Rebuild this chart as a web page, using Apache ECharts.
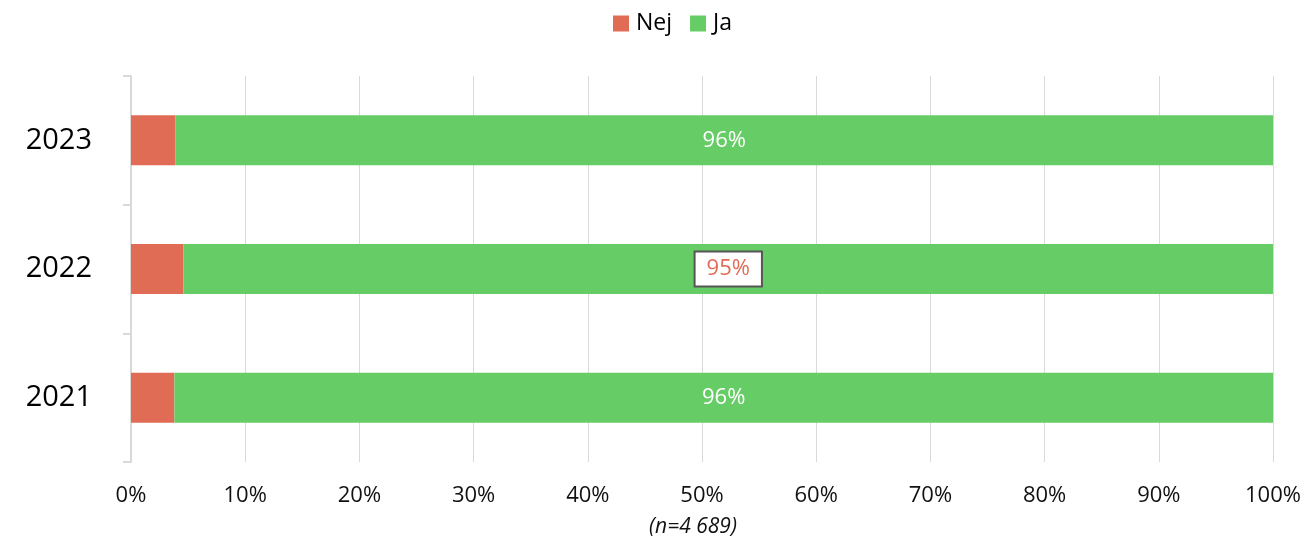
<!DOCTYPE html>
<html><head><meta charset="utf-8">
<script src="https://cdn.jsdelivr.net/npm/echarts@6/dist/echarts.min.js"></script>
<style>html,body{margin:0;padding:0;background:#fff}#c{width:1309px;height:539px}</style>
</head><body><div id="c"></div>
<script>
const categories = ['2021', '2022', '2023'];
const nej = [3.8, 4.6, 3.9];
const ja = [96.2, 95.4, 96.1];
const xTicks = [0, 10, 20, 30, 40, 50, 60, 70, 80, 90, 100];
const note = '(n=4 689)';
const FONT = 'Open Sans';

const chart = echarts.init(document.getElementById('c'), null, {renderer: 'canvas'});
chart.setOption({
  animation: false,
  textStyle: {fontFamily: FONT},
  legend: {
    data: ['Nej', 'Ja'], top: 7, left: 608,
    itemWidth: 16, itemHeight: 16, itemGap: 18,
    icon: 'rect',
    textStyle: {fontSize: 23, color: '#000', fontFamily: FONT, padding: [0, 0, 0, 2]}
  },
  grid: {left: 131, right: 36, top: 76, bottom: 77, containLabel: false, outerBoundsMode: 'none'},
  xAxis: {
    type: 'value', min: xTicks[0], max: xTicks[xTicks.length - 1], interval: 10,
    axisLine: {show: false}, axisTick: {show: false},
    splitLine: {lineStyle: {color: '#d9d9d9', width: 1}},
    axisLabel: {formatter: '{value}%', fontSize: 22, color: '#111', margin: 23, fontFamily: FONT},
    name: note, nameLocation: 'middle', nameGap: 55,
    nameTextStyle: {fontSize: 21, fontStyle: 'italic', color: '#111', fontFamily: FONT, padding: [0, 18, 0, 0]}
  },
  yAxis: {
    type: 'category', data: categories,
    axisLine: {lineStyle: {color: '#d9d9d9', width: 2}},
    axisTick: {show: true, length: 8, lineStyle: {color: '#d9d9d9', width: 2}},
    axisLabel: {fontSize: 29, color: '#000', margin: 39, fontFamily: FONT}
  },
  series: [
    {name: 'Nej', type: 'bar', stack: 't', data: nej, barWidth: 50,
      itemStyle: {color: '#e06c55'}},
    {name: 'Ja', type: 'bar', stack: 't', barWidth: 50,
      data: ja.map((v, i) => {
        const d = {value: v};
        if (categories[i] === '2022') {
          d.label = {color: '#e06c55', backgroundColor: '#fff', borderColor: '#555', borderWidth: 2, padding: [6, 11, 5, 11]};
        }
        return d;
      }),
      itemStyle: {color: '#66cc66'},
      label: {show: true, position: 'inside', fontSize: 22, color: '#fff', fontFamily: FONT,
        formatter: p => Math.round(p.value) + '%'}
    }
  ]
});
</script></body></html>
